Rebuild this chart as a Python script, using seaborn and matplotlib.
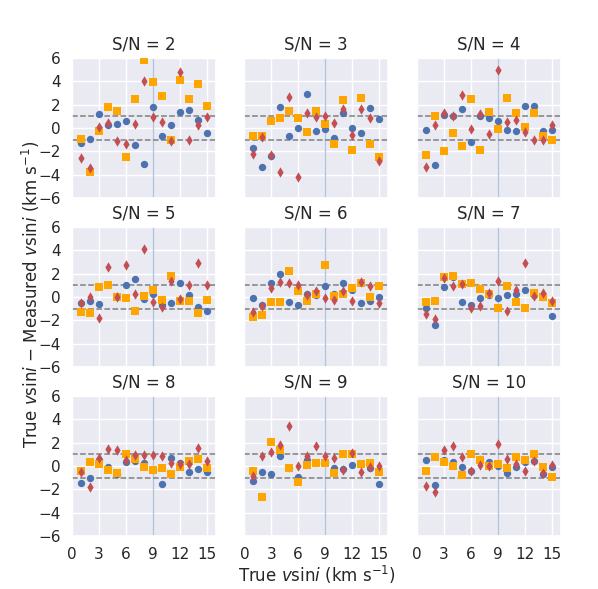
import numpy as np
import pandas as pd
import matplotlib
matplotlib.use("Agg")
import matplotlib.pyplot as plt
import seaborn as sns

# ─── Data: residuals (true - measured vsini) per S/N level ──────────
sn_levels = [2, 3, 4, 5, 6, 7, 8, 9, 10]
true_vsini = list(range(1, 16))

# blue circles
resid_circle = {
    2: [-1.29, -0.94, 1.23, 0.29, 0.34, 0.57, -1.43, -3.09, 1.77, -0.66, 0.29, 1.40, 1.51, 0.71, -0.46],
    3: [-1.74, -3.37, -2.40, 1.80, -0.69, 0.00, 2.94, -0.23, -0.09, -0.86, 1.26, 0.03, -0.40, 1.71, 0.80],
    4: [-0.14, -3.17, 1.14, 1.00, 1.63, -1.23, 1.06, 0.83, 0.57, -0.20, -0.23, 1.86, 1.91, -0.26, -0.20],
    5: [-0.48, -0.33, -0.57, 1.00, 0.07, 1.03, 1.55, -0.13, 0.30, -0.65, -0.48, 1.23, 0.19, -0.83, -1.23],
    6: [-0.09, -0.66, 1.17, 2.00, -0.46, -0.66, 0.23, 0.20, 0.94, 0.29, 1.23, 0.57, -0.49, -0.37, 0.00],
    7: [-0.91, -2.43, 0.86, 1.71, -0.46, -0.66, -0.06, 0.20, -0.09, 0.17, 0.29, 0.57, 0.20, 0.00, -1.66],
    8: [-1.43, -1.06, 0.50, -0.09, -0.69, 0.31, 0.43, 0.29, -0.31, -1.51, 0.71, 0.29, -0.49, -0.26, -0.49],
    9: [-1.31, -0.49, -0.66, 0.83, -0.14, -0.94, 0.49, 0.29, 0.30, -0.20, -0.29, 0.06, 0.20, -0.14, -1.54],
    10: [0.49, -1.63, 0.51, 0.31, -0.11, -0.40, 0.63, 0.37, 0.03, -0.57, -0.09, 0.30, 0.40, -0.71, -0.11],
}

# orange squares
resid_square = {
    2: [-0.94, -3.77, -0.29, 1.77, 1.49, -2.51, 2.46, 5.86, 3.91, 2.71, -1.00, 4.09, 2.49, 3.74, 1.89],
    3: [-0.69, -0.69, 0.57, 0.89, 1.49, 0.89, -0.37, 1.43, 0.34, -1.34, 2.43, -1.89, 2.54, -1.40, -2.49],
    4: [-2.34, 1.00, -1.94, -0.40, -1.57, 2.49, -1.86, 1.40, -0.09, 2.57, 1.26, 0.09, 1.31, -0.69, -1.00],
    5: [-1.26, -1.41, 0.86, 1.00, 0.04, -0.10, -1.23, 0.10, 0.59, -0.22, 1.78, -0.33, -0.36, -1.38, -0.22],
    6: [-1.74, -1.54, -0.46, -0.40, 2.26, 0.49, -0.37, 0.29, 2.74, 0.06, 0.23, 0.77, 1.23, 0.00, 0.94],
    7: [-0.43, -0.31, 1.69, 1.80, 1.11, 1.17, 0.71, 0.29, -0.97, 0.97, -0.43, -0.97, 0.37, 0.00, -0.51],
    8: [-0.46, 0.31, 0.20, -0.34, -0.63, 1.00, 0.57, -0.09, -0.31, -0.14, -0.69, -0.09, 0.43, 0.63, -0.14],
    9: [-0.43, -2.66, 2.03, 1.34, -0.20, -1.37, 0.06, 0.29, 0.29, -0.57, 1.06, 1.06, 0.20, 0.26, -0.54],
    10: [-0.43, 0.77, 0.34, -0.03, -0.77, 1.00, 0.51, 0.00, 0.14, -0.20, 0.77, 0.54, 1.00, -0.06, -0.97],
}

# red diamonds
resid_diamond = {
    2: [-2.57, -3.46, 0.09, 0.40, -1.14, -1.40, 0.34, 4.06, 0.94, 0.51, -1.09, 4.80, -1.06, 0.23, 0.91],
    3: [-2.20, -0.80, -2.34, -3.80, 2.66, -4.17, 1.26, 0.94, 1.00, 0.40, 1.63, -0.60, 1.63, 0.89, -2.83],
    4: [-3.31, 0.29, 1.26, 1.06, 2.80, -0.09, 1.23, -0.49, 5.00, 0.54, 0.71, -0.37, -1.06, -1.06, 0.23],
    5: [-0.48, -0.04, -1.78, 2.59, 0.04, 2.71, 0.22, 4.10, -0.45, -0.83, 1.41, -0.13, 1.06, 2.94, 1.00],
    6: [-1.31, -0.80, 0.77, 1.29, 1.20, 1.03, 0.14, 0.51, -0.11, -0.23, 0.54, -0.37, 1.26, 0.91, -0.49],
    7: [-1.46, -1.89, 1.63, 0.97, 1.11, -0.91, -0.80, 0.37, 1.37, -1.20, 0.57, 2.91, 0.11, 0.31, -0.37],
    8: [-0.54, -1.80, 0.66, 1.49, 1.34, 0.49, 0.91, 0.91, 0.97, 0.86, 0.29, 0.14, 0.20, 1.54, 0.43],
    9: [-0.89, 0.86, 1.20, 1.80, 3.40, 0.00, 0.89, 1.71, 0.83, 0.71, -0.34, 1.11, -0.51, -0.09, -0.03],
    10: [-1.69, -2.20, 1.40, 1.69, 0.80, -0.40, 0.11, -0.03, 1.91, 0.57, 0.20, -0.43, 0.40, -0.57, 0.11],
}

x_ticks = [0, 3, 6, 9, 12, 15]
y_ticks = [-6, -4, -2, 0, 2, 4, 6]

# ─── Style ─────────────────────────────────
sns.set_theme(style="darkgrid")
plt.rcParams["font.family"] = ["DejaVu Sans"]
plt.rcParams["mathtext.fontset"] = "dejavusans"

series = [
    (resid_circle, "o", "#4C72B0"),
    (resid_square, "s", "#FFA500"),
    (resid_diamond, "d", "#C44E52"),
]

fig, axes = plt.subplots(3, 3, figsize=(5.98, 5.89), dpi=100, sharex=True, sharey=True)
fig.subplots_adjust(left=0.12, right=0.9376, top=0.9015, bottom=0.09, wspace=0.2, hspace=0.207)

for ax, sn in zip(axes.flat, sn_levels):
    ax.axvline(9, color="#B0C4DE", lw=1.0, zorder=1)
    ax.axhline(1, color="gray", ls="--", lw=1.1, zorder=1)
    ax.axhline(-1, color="gray", ls="--", lw=1.1, zorder=1)
    for resid, marker, color in series:
        df = pd.DataFrame({"true": true_vsini, "resid": resid[sn]})
        sns.scatterplot(data=df, x="true", y="resid", marker=marker, color=color,
                        s=28, linewidth=0, ax=ax, zorder=3)
    ax.set_title(f"S/N = {sn}", fontsize=12)
    ax.set_xlim(0, 16)
    ax.set_ylim(-6, 6)
    ax.set_xticks(x_ticks)
    ax.set_yticks(y_ticks)
    ax.set_xlabel("")
    ax.set_ylabel("")
    ax.tick_params(labelsize=11, pad=2)

fig.text(0.53, 0.024, r"True $v\mathrm{sin}i$ (km s$^{-1}$)", ha="center", va="center", fontsize=12)
fig.text(0.052, 0.5, r"True $v\mathrm{sin}i$ $-$ Measured $v\mathrm{sin}i$ (km s$^{-1}$)",
         ha="center", va="center", rotation=90, fontsize=12)

fig.savefig("out.png", dpi=100)
